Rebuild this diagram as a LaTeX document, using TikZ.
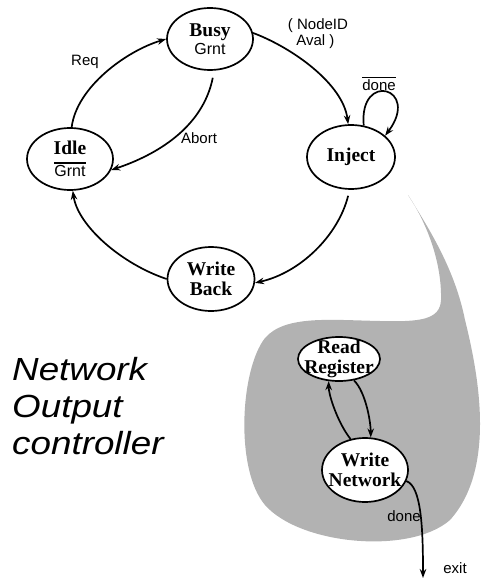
\documentclass[tikz,border=0pt]{standalone}
\usepackage{fontspec}
\setmainfont{Liberation Serif}
\newfontfamily\lsans{Liberation Sans}
\newfontfamily\titlefont[FakeStretch=1.15]{Liberation Sans}
\usetikzlibrary{shapes.geometric,arrows.meta}
\newcommand\myovl[1]{\leavevmode\vbox{\hrule height 1.3pt\kern1.6pt\hbox{#1}}}
\tikzset{
  st/.style={ellipse,draw,line width=1.7pt,fill=white,inner sep=0pt},
  stxt/.style={font=\bfseries\fontsize{19.5}{19.5}\selectfont,align=center,inner sep=0pt},
  lbl/.style={font=\lsans\fontsize{15}{16}\selectfont,inner sep=0pt},
  tr/.style={line width=1.7pt,-{Stealth[length=9pt,width=6.5pt]}},
}
\newcommand\subfont{\mdseries\lsans\fontsize{16}{16}\selectfont}
\begin{document}
\begin{tikzpicture}[x=1pt,y=-1pt]
\useasboundingbox (0,0) rectangle (487,580);
% shaded blob
\fill[black!30] (408,195) .. controls (430,230) and (455,270) .. (465,320)
  .. controls (480,380) and (495,470) .. (450,520)
  .. controls (410,555) and (300,545) .. (265,505)
  .. controls (235,470) and (240,370) .. (265,338)
  .. controls (285,315) and (330,320) .. (380,321)
  .. controls (420,322) and (440,320) .. (441,300)
  .. controls (442,260) and (425,220) .. (408,195) -- cycle;
% states
\node[st,minimum width=86pt,minimum height=62pt] (busy) at (210,39) {};
\node[stxt] (busyt) at (busy) {Busy\\[-1pt]{\subfont Grnt}};
\node[st,minimum width=86pt,minimum height=62pt] (idle) at (70,159) {};
\node[stxt] (idlet) at (idle) {Idle\\[2pt]{\subfont\myovl{Grnt}}};
\node[st,minimum width=88pt,minimum height=64pt] (inj) at (351,157) {};
\node[stxt] (injt) at (inj) {Inject};
\node[st,minimum width=87pt,minimum height=64pt] (wb) at (211,279) {};
\node[stxt] (wbt) at (wb) {Write\\Back};
\node[st,minimum width=82pt,minimum height=44pt] (rr) at (339,359) {};
\node[stxt] (rrt) at (rr) {Read\\Register};
\node[st,minimum width=86pt,minimum height=64pt] (wn) at (365,470) {};
\node[stxt] (wnt) at (wn) {Write\\Network};
\coordinate (exit) at (423,578);
% transitions
\draw[tr] (idle.87) .. controls +(5,-40) and +(-40,12) .. (busy.west);
\draw[tr] (busy.8) .. controls +(40,15) and +(-5,-40) .. (inj.95);
\draw[tr] ([yshift=-7pt]busy.-85) .. controls +(-10,50) and +(45,-15) .. (idle.-15);
\draw[tr] (inj.68) .. controls +(-5,-55) and +(36,-48) .. (inj.32);
\draw[tr] ([yshift=-6pt]inj.-95) .. controls +(-10,40) and +(45,-10) .. (wb.-5);
\draw[tr] (wb.180) .. controls +(-45,-15) and +(5,35) .. (idle.-85);
\draw[tr] (wn.115) .. controls +(-12,-15) and +(0,15) .. (rr.-115);
\draw[tr] (rr.-55) .. controls +(12,12) and +(0,-15) .. (wn.80);
\draw[tr] (wn.-15) .. controls +(15,5) and +(0,-50) .. (exit);
% labels
\node[lbl] (lreq) at (85,62) {Req};
\node[lbl,align=left] (lnid) at (318,34) {( NodeID\\\ \ Aval )};
\node[lbl] (labort) at (199,138) {Abort};
\node[lbl] (ldone) at (379,84) {\myovl{done}};
\node[lbl] (ldone2) at (404,516) {done};
\node[lbl] (lexit) at (455,568) {exit};
\node[font=\titlefont\itshape\fontsize{32}{37}\selectfont,align=left,anchor=north west,inner sep=0pt] (title) at (12,357) {Network\\Output\\controller};
\end{tikzpicture}
\end{document}
